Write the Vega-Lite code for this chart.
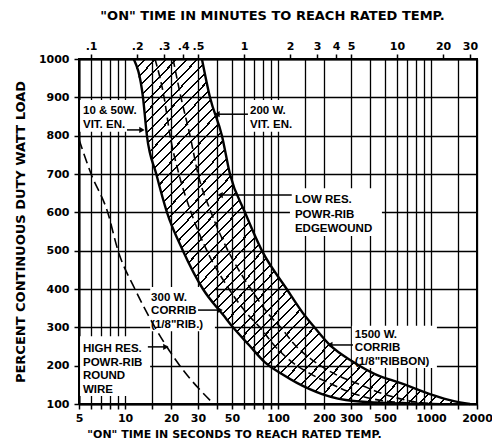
{
 "$schema": "https://vega.github.io/schema/vega-lite/v6.json",
 "width": 398,
 "height": 345,
 "autosize": {"type": "none"},
 "padding": {"left": 79, "top": 59, "right": 15, "bottom": 40},
 "background": "white",
 "config": {
  "view": {"stroke": "black", "strokeWidth": 2},
  "axis": {"labelFont": "DejaVu Sans", "labelFontWeight": "bold", "labelColor": "black", "labelFontSize": 11,
   "titleFont": "DejaVu Sans", "titleFontWeight": "bold", "titleColor": "black",
   "domainColor": "black", "domainWidth": 2, "tickColor": "black", "tickWidth": 1.5, "tickSize": 5,
   "gridColor": "black", "gridWidth": 1.3, "gridOpacity": 1, "labelFlush": false, "labelOverlap": false, "labelBound": false}
 },
 "datasets": {
  "band": [
   {"p": 1000, "lo": 11.4, "hi": 31.8},
   {"p": 900, "lo": 13.1, "hi": 35.9},
   {"p": 800, "lo": 13.9, "hi": 43},
   {"p": 700, "lo": 16.0, "hi": 48.5},
   {"p": 600, "lo": 18.8, "hi": 60.8},
   {"p": 500, "lo": 23.9, "hi": 78.5},
   {"p": 400, "lo": 32.3, "hi": 114},
   {"p": 330, "lo": 44.3, "hi": 150},
   {"p": 300, "lo": 50.8, "hi": 173},
   {"p": 254, "lo": 64.6, "hi": 218},
   {"p": 210, "lo": 81.5, "hi": 309},
   {"p": 178, "lo": 106, "hi": 430},
   {"p": 155, "lo": 133, "hi": 627},
   {"p": 126, "lo": 194, "hi": 984},
   {"p": 108, "lo": 313, "hi": 1390},
   {"p": 100, "lo": 850, "hi": 1800}
  ],
  "curves": [
   {"c": "C", "p": 1000, "s": 15.7}, {"c": "C", "p": 900, "s": 18.0}, {"c": "C", "p": 800, "s": 19.7}, {"c": "C", "p": 700, "s": 22.5},
   {"c": "C", "p": 600, "s": 27.0}, {"c": "C", "p": 500, "s": 34.3}, {"c": "C", "p": 400, "s": 47.8}, {"c": "C", "p": 330, "s": 64.6},
   {"c": "C", "p": 300, "s": 76.2}, {"c": "C", "p": 254, "s": 94}, {"c": "C", "p": 210, "s": 123}, {"c": "C", "p": 178, "s": 164},
   {"c": "C", "p": 155, "s": 215}, {"c": "C", "p": 126, "s": 318}, {"c": "C", "p": 108, "s": 500}, {"c": "C", "p": 100, "s": 1062},
   {"c": "D", "p": 1000, "s": 20.6}, {"c": "D", "p": 900, "s": 23.2}, {"c": "D", "p": 800, "s": 26.6}, {"c": "D", "p": 700, "s": 30.0},
   {"c": "D", "p": 600, "s": 36.5}, {"c": "D", "p": 500, "s": 47.1}, {"c": "D", "p": 400, "s": 66.5}, {"c": "D", "p": 330, "s": 88.6},
   {"c": "D", "p": 300, "s": 104}, {"c": "D", "p": 254, "s": 129}, {"c": "D", "p": 210, "s": 174}, {"c": "D", "p": 178, "s": 236},
   {"c": "D", "p": 155, "s": 323}, {"c": "D", "p": 126, "s": 492}, {"c": "D", "p": 108, "s": 728}, {"c": "D", "p": 100, "s": 1197},
   {"c": "H", "p": 790, "s": 5}, {"c": "H", "p": 700, "s": 6}, {"c": "H", "p": 600, "s": 7.7}, {"c": "H", "p": 500, "s": 9},
   {"c": "H", "p": 400, "s": 11.6}, {"c": "H", "p": 300, "s": 15.7}, {"c": "H", "p": 200, "s": 22.8}, {"c": "H", "p": 100, "s": 38}
  ],
  "boxes": [
   {"s1": 5.08, "s2": 10.8, "p": 810, "p2": 893},
   {"s1": 60.8, "s2": 143.5, "p": 810, "p2": 893},
   {"s1": 119.7, "s2": 478, "p": 538, "p2": 663},
   {"s1": 14.6, "s2": 38.7, "p": 290, "p2": 405},
   {"s1": 5.08, "s2": 14.6, "p": 121, "p2": 277},
   {"s1": 304, "s2": 1094, "p": 194, "p2": 304}
  ],
  "leaders": [
   {"s1": 10.3, "s2": 12.9, "p": 815},
   {"s1": 39.9, "s2": 63.6, "p": 856},
   {"s1": 41.8, "s2": 123, "p": 645},
   {"s1": 30, "s2": 41.8, "p": 345},
   {"s1": 14.1, "s2": 18.5, "p": 249},
   {"s1": 218, "s2": 309, "p": 254}
  ],
  "arrows": [
   {"s": 12.9, "p": 815, "d": "R"},
   {"s": 39.9, "p": 856, "d": "L"},
   {"s": 41.8, "p": 645, "d": "L"},
   {"s": 41.8, "p": 345, "d": "R"},
   {"s": 18.5, "p": 249, "d": "R"},
   {"s": 218, "p": 254, "d": "L"}
  ],
  "labels": [
   {"t": "10 & 50W.", "s": 5.31, "p": 856},
   {"t": "VIT. EN.", "s": 5.31, "p": 820},
   {"t": "200 W.", "s": 65.6, "p": 856},
   {"t": "VIT. EN.", "s": 65.6, "p": 820},
   {"t": "LOW RES.", "s": 129, "p": 624},
   {"t": "POWR-RIB", "s": 129, "p": 585},
   {"t": "EDGEWOUND", "s": 129, "p": 549},
   {"t": "300 W.", "s": 14.8, "p": 369},
   {"t": "CORRIB", "s": 14.8, "p": 334},
   {"t": "(1/8\"RIB.)", "s": 14.8, "p": 298},
   {"t": "HIGH RES.", "s": 5.31, "p": 236},
   {"t": "POWR-RIB", "s": 5.31, "p": 200},
   {"t": "ROUND", "s": 5.31, "p": 165},
   {"t": "WIRE", "s": 5.31, "p": 130},
   {"t": "1500 W.", "s": 318, "p": 272},
   {"t": "CORRIB", "s": 318, "p": 237},
   {"t": "(1/8\"RIBBON)", "s": 318, "p": 202}
  ]
 },
 "encoding": {
  "y": {"field": "p", "type": "quantitative", "scale": {"domain": [100, 1000], "nice": false, "zero": false},
   "axis": {"values": [100, 200, 300, 400, 500, 600, 700, 800, 900, 1000], "format": "d", "grid": true, "title": "PERCENT CONTINUOUS DUTY WATT LOAD",
    "titleFontSize": 13, "titlePadding": 11, "labelPadding": 5}}
 },
 "layer": [
  {
   "data": {"name": "boxes"},
   "mark": {"type": "rect", "fill": "white", "strokeWidth": 0},
   "encoding": {
    "x": {"field": "s1", "type": "quantitative", "scale": {"type": "log", "domain": [5, 2000], "nice": false}, "axis": null},
    "x2": {"field": "s2"},
    "y2": {"field": "p2"}
   }
  },
  {
   "data": {"name": "band"},
   "mark": {"type": "area", "orient": "horizontal", "interpolate": "monotone", "fill": {"gradient": "linear", "x1": 0, "y1": 0, "x2": 1, "y2": 1, "stops": [
    {"offset":0,"color":"#000"},{"offset":0.003,"color":"#000"},{"offset":0.003,"color":"transparent"},{"offset":0.015625,"color":"transparent"},
    {"offset":0.015625,"color":"#000"},{"offset":0.018625,"color":"#000"},{"offset":0.018625,"color":"transparent"},{"offset":0.03125,"color":"transparent"},
    {"offset":0.03125,"color":"#000"},{"offset":0.03425,"color":"#000"},{"offset":0.03425,"color":"transparent"},{"offset":0.046875,"color":"transparent"},
    {"offset":0.046875,"color":"#000"},{"offset":0.049875,"color":"#000"},{"offset":0.049875,"color":"transparent"},{"offset":0.0625,"color":"transparent"},
    {"offset":0.0625,"color":"#000"},{"offset":0.0655,"color":"#000"},{"offset":0.0655,"color":"transparent"},{"offset":0.078125,"color":"transparent"},
    {"offset":0.078125,"color":"#000"},{"offset":0.081125,"color":"#000"},{"offset":0.081125,"color":"transparent"},{"offset":0.09375,"color":"transparent"},
    {"offset":0.09375,"color":"#000"},{"offset":0.09675,"color":"#000"},{"offset":0.09675,"color":"transparent"},{"offset":0.109375,"color":"transparent"},
    {"offset":0.109375,"color":"#000"},{"offset":0.112375,"color":"#000"},{"offset":0.112375,"color":"transparent"},{"offset":0.125,"color":"transparent"},
    {"offset":0.125,"color":"#000"},{"offset":0.128,"color":"#000"},{"offset":0.128,"color":"transparent"},{"offset":0.140625,"color":"transparent"},
    {"offset":0.140625,"color":"#000"},{"offset":0.143625,"color":"#000"},{"offset":0.143625,"color":"transparent"},{"offset":0.15625,"color":"transparent"},
    {"offset":0.15625,"color":"#000"},{"offset":0.15925,"color":"#000"},{"offset":0.15925,"color":"transparent"},{"offset":0.171875,"color":"transparent"},
    {"offset":0.171875,"color":"#000"},{"offset":0.174875,"color":"#000"},{"offset":0.174875,"color":"transparent"},{"offset":0.1875,"color":"transparent"},
    {"offset":0.1875,"color":"#000"},{"offset":0.1905,"color":"#000"},{"offset":0.1905,"color":"transparent"},{"offset":0.203125,"color":"transparent"},
    {"offset":0.203125,"color":"#000"},{"offset":0.206125,"color":"#000"},{"offset":0.206125,"color":"transparent"},{"offset":0.21875,"color":"transparent"},
    {"offset":0.21875,"color":"#000"},{"offset":0.22175,"color":"#000"},{"offset":0.22175,"color":"transparent"},{"offset":0.234375,"color":"transparent"},
    {"offset":0.234375,"color":"#000"},{"offset":0.237375,"color":"#000"},{"offset":0.237375,"color":"transparent"},{"offset":0.25,"color":"transparent"},
    {"offset":0.25,"color":"#000"},{"offset":0.253,"color":"#000"},{"offset":0.253,"color":"transparent"},{"offset":0.265625,"color":"transparent"},
    {"offset":0.265625,"color":"#000"},{"offset":0.268625,"color":"#000"},{"offset":0.268625,"color":"transparent"},{"offset":0.28125,"color":"transparent"},
    {"offset":0.28125,"color":"#000"},{"offset":0.28425,"color":"#000"},{"offset":0.28425,"color":"transparent"},{"offset":0.296875,"color":"transparent"},
    {"offset":0.296875,"color":"#000"},{"offset":0.299875,"color":"#000"},{"offset":0.299875,"color":"transparent"},{"offset":0.3125,"color":"transparent"},
    {"offset":0.3125,"color":"#000"},{"offset":0.3155,"color":"#000"},{"offset":0.3155,"color":"transparent"},{"offset":0.328125,"color":"transparent"},
    {"offset":0.328125,"color":"#000"},{"offset":0.331125,"color":"#000"},{"offset":0.331125,"color":"transparent"},{"offset":0.34375,"color":"transparent"},
    {"offset":0.34375,"color":"#000"},{"offset":0.34675,"color":"#000"},{"offset":0.34675,"color":"transparent"},{"offset":0.359375,"color":"transparent"},
    {"offset":0.359375,"color":"#000"},{"offset":0.362375,"color":"#000"},{"offset":0.362375,"color":"transparent"},{"offset":0.375,"color":"transparent"},
    {"offset":0.375,"color":"#000"},{"offset":0.378,"color":"#000"},{"offset":0.378,"color":"transparent"},{"offset":0.390625,"color":"transparent"},
    {"offset":0.390625,"color":"#000"},{"offset":0.393625,"color":"#000"},{"offset":0.393625,"color":"transparent"},{"offset":0.40625,"color":"transparent"},
    {"offset":0.40625,"color":"#000"},{"offset":0.40925,"color":"#000"},{"offset":0.40925,"color":"transparent"},{"offset":0.421875,"color":"transparent"},
    {"offset":0.421875,"color":"#000"},{"offset":0.424875,"color":"#000"},{"offset":0.424875,"color":"transparent"},{"offset":0.4375,"color":"transparent"},
    {"offset":0.4375,"color":"#000"},{"offset":0.4405,"color":"#000"},{"offset":0.4405,"color":"transparent"},{"offset":0.453125,"color":"transparent"},
    {"offset":0.453125,"color":"#000"},{"offset":0.456125,"color":"#000"},{"offset":0.456125,"color":"transparent"},{"offset":0.46875,"color":"transparent"},
    {"offset":0.46875,"color":"#000"},{"offset":0.47175,"color":"#000"},{"offset":0.47175,"color":"transparent"},{"offset":0.484375,"color":"transparent"},
    {"offset":0.484375,"color":"#000"},{"offset":0.487375,"color":"#000"},{"offset":0.487375,"color":"transparent"},{"offset":0.5,"color":"transparent"},
    {"offset":0.5,"color":"#000"},{"offset":0.503,"color":"#000"},{"offset":0.503,"color":"transparent"},{"offset":0.515625,"color":"transparent"},
    {"offset":0.515625,"color":"#000"},{"offset":0.518625,"color":"#000"},{"offset":0.518625,"color":"transparent"},{"offset":0.53125,"color":"transparent"},
    {"offset":0.53125,"color":"#000"},{"offset":0.53425,"color":"#000"},{"offset":0.53425,"color":"transparent"},{"offset":0.546875,"color":"transparent"},
    {"offset":0.546875,"color":"#000"},{"offset":0.549875,"color":"#000"},{"offset":0.549875,"color":"transparent"},{"offset":0.5625,"color":"transparent"},
    {"offset":0.5625,"color":"#000"},{"offset":0.5655,"color":"#000"},{"offset":0.5655,"color":"transparent"},{"offset":0.578125,"color":"transparent"},
    {"offset":0.578125,"color":"#000"},{"offset":0.581125,"color":"#000"},{"offset":0.581125,"color":"transparent"},{"offset":0.59375,"color":"transparent"},
    {"offset":0.59375,"color":"#000"},{"offset":0.59675,"color":"#000"},{"offset":0.59675,"color":"transparent"},{"offset":0.609375,"color":"transparent"},
    {"offset":0.609375,"color":"#000"},{"offset":0.612375,"color":"#000"},{"offset":0.612375,"color":"transparent"},{"offset":0.625,"color":"transparent"},
    {"offset":0.625,"color":"#000"},{"offset":0.628,"color":"#000"},{"offset":0.628,"color":"transparent"},{"offset":0.640625,"color":"transparent"},
    {"offset":0.640625,"color":"#000"},{"offset":0.643625,"color":"#000"},{"offset":0.643625,"color":"transparent"},{"offset":0.65625,"color":"transparent"},
    {"offset":0.65625,"color":"#000"},{"offset":0.65925,"color":"#000"},{"offset":0.65925,"color":"transparent"},{"offset":0.671875,"color":"transparent"},
    {"offset":0.671875,"color":"#000"},{"offset":0.674875,"color":"#000"},{"offset":0.674875,"color":"transparent"},{"offset":0.6875,"color":"transparent"},
    {"offset":0.6875,"color":"#000"},{"offset":0.6905,"color":"#000"},{"offset":0.6905,"color":"transparent"},{"offset":0.703125,"color":"transparent"},
    {"offset":0.703125,"color":"#000"},{"offset":0.706125,"color":"#000"},{"offset":0.706125,"color":"transparent"},{"offset":0.71875,"color":"transparent"},
    {"offset":0.71875,"color":"#000"},{"offset":0.72175,"color":"#000"},{"offset":0.72175,"color":"transparent"},{"offset":0.734375,"color":"transparent"},
    {"offset":0.734375,"color":"#000"},{"offset":0.737375,"color":"#000"},{"offset":0.737375,"color":"transparent"},{"offset":0.75,"color":"transparent"},
    {"offset":0.75,"color":"#000"},{"offset":0.753,"color":"#000"},{"offset":0.753,"color":"transparent"},{"offset":0.765625,"color":"transparent"},
    {"offset":0.765625,"color":"#000"},{"offset":0.768625,"color":"#000"},{"offset":0.768625,"color":"transparent"},{"offset":0.78125,"color":"transparent"},
    {"offset":0.78125,"color":"#000"},{"offset":0.78425,"color":"#000"},{"offset":0.78425,"color":"transparent"},{"offset":0.796875,"color":"transparent"},
    {"offset":0.796875,"color":"#000"},{"offset":0.799875,"color":"#000"},{"offset":0.799875,"color":"transparent"},{"offset":0.8125,"color":"transparent"},
    {"offset":0.8125,"color":"#000"},{"offset":0.8155,"color":"#000"},{"offset":0.8155,"color":"transparent"},{"offset":0.828125,"color":"transparent"},
    {"offset":0.828125,"color":"#000"},{"offset":0.831125,"color":"#000"},{"offset":0.831125,"color":"transparent"},{"offset":0.84375,"color":"transparent"},
    {"offset":0.84375,"color":"#000"},{"offset":0.84675,"color":"#000"},{"offset":0.84675,"color":"transparent"},{"offset":0.859375,"color":"transparent"},
    {"offset":0.859375,"color":"#000"},{"offset":0.862375,"color":"#000"},{"offset":0.862375,"color":"transparent"},{"offset":0.875,"color":"transparent"},
    {"offset":0.875,"color":"#000"},{"offset":0.878,"color":"#000"},{"offset":0.878,"color":"transparent"},{"offset":0.890625,"color":"transparent"},
    {"offset":0.890625,"color":"#000"},{"offset":0.893625,"color":"#000"},{"offset":0.893625,"color":"transparent"},{"offset":0.90625,"color":"transparent"},
    {"offset":0.90625,"color":"#000"},{"offset":0.90925,"color":"#000"},{"offset":0.90925,"color":"transparent"},{"offset":0.921875,"color":"transparent"},
    {"offset":0.921875,"color":"#000"},{"offset":0.924875,"color":"#000"},{"offset":0.924875,"color":"transparent"},{"offset":0.9375,"color":"transparent"},
    {"offset":0.9375,"color":"#000"},{"offset":0.9405,"color":"#000"},{"offset":0.9405,"color":"transparent"},{"offset":0.953125,"color":"transparent"},
    {"offset":0.953125,"color":"#000"},{"offset":0.956125,"color":"#000"},{"offset":0.956125,"color":"transparent"},{"offset":0.96875,"color":"transparent"},
    {"offset":0.96875,"color":"#000"},{"offset":0.97175,"color":"#000"},{"offset":0.97175,"color":"transparent"},{"offset":0.984375,"color":"transparent"},
    {"offset":0.984375,"color":"#000"},{"offset":0.987375,"color":"#000"},{"offset":0.987375,"color":"transparent"},{"offset":1,"color":"transparent"}
   ]}, "opacity": 1},
   "encoding": {
    "x": {"field": "lo", "type": "quantitative", "scale": {"type": "log", "domain": [5, 2000], "nice": false}, "axis": null},
    "x2": {"field": "hi"}
   }
  },
  {
   "data": {"name": "band"},
   "mark": {"type": "line", "color": "black", "strokeWidth": 2.4, "interpolate": "monotone"},
   "encoding": {
    "x": {"field": "lo", "type": "quantitative", "scale": {"type": "log", "domain": [5, 2000], "nice": false},
     "axis": {"orient": "bottom", "grid": true,
      "values": [5, 6, 7, 8, 9, 10, 15, 20, 30, 40, 50, 60, 70, 80, 90, 100, 150, 200, 300, 400, 500, 600, 700, 800, 900, 1000, 1500, 2000],
      "labelExpr": "indexof([5, 10, 20, 30, 50, 100, 200, 300, 500, 1000, 2000], datum.value) >= 0 ? '' + datum.value : ''",
      "labelPadding": 3, "title": "\"ON\" TIME IN SECONDS TO REACH RATED TEMP.", "titleFontSize": 11, "titlePadding": 5,
      "titleX": 155, "titleAlign": "center", "titleAnchor": null}}
   }
  },
  {
   "data": {"name": "band"},
   "mark": {"type": "line", "color": "black", "strokeWidth": 2.4, "interpolate": "monotone"},
   "encoding": {
    "x": {"field": "hi", "type": "quantitative", "scale": {"type": "log", "domain": [5, 2000], "nice": false}, "axis": null}
   }
  },
  {
   "data": {"name": "curves"},
   "mark": {"type": "line", "color": "black", "interpolate": "monotone"},
   "encoding": {
    "x": {"field": "s", "type": "quantitative", "scale": {"type": "log", "domain": [5, 2000], "nice": false}, "axis": null},
    "detail": {"field": "c"},
    "strokeDash": {"field": "c", "type": "nominal", "scale": {"domain": ["C", "D", "H"], "range": [[8, 4], [8, 4], [10, 5]]}, "legend": null},
    "strokeWidth": {"field": "c", "type": "nominal", "scale": {"domain": ["C", "D", "H"], "range": [1.6, 1.6, 2.2]}, "legend": null}
   }
  },
  {
   "data": {"name": "leaders"},
   "mark": {"type": "rule", "color": "black", "strokeWidth": 1.5},
   "encoding": {
    "x": {"field": "s1", "type": "quantitative", "scale": {"type": "log", "domain": [5, 2000], "nice": false}, "axis": null},
    "x2": {"field": "s2"}
   }
  },
  {
   "data": {"name": "arrows"},
   "mark": {"type": "point", "filled": true, "color": "black", "opacity": 1, "size": 40},
   "encoding": {
    "x": {"field": "s", "type": "quantitative", "scale": {"type": "log", "domain": [5, 2000], "nice": false}, "axis": null},
    "shape": {"field": "d", "type": "nominal", "scale": {"domain": ["L", "R"], "range": ["triangle-left", "triangle-right"]}, "legend": null}
   }
  },
  {
   "data": {"name": "labels"},
   "mark": {"type": "text", "align": "left", "baseline": "alphabetic", "font": "Liberation Sans", "fontWeight": "bold", "fontSize": 11.5, "color": "black"},
   "encoding": {
    "x": {"field": "s", "type": "quantitative", "scale": {"type": "log", "domain": [5, 2000], "nice": false},
     "axis": {"orient": "top", "grid": false,
      "values": [6, 12, 18, 24, 30, 60, 120, 180, 240, 300, 600, 1200, 1800],
      "labelExpr": "datum.value < 60 ? '.' + round(datum.value / 6) : '' + round(datum.value / 60)",
      "labelPadding": 3, "title": "\"ON\" TIME IN MINUTES TO REACH RATED TEMP.", "titleFontSize": 13, "titlePadding": 18,
      "titleX": 193, "titleAlign": "center", "titleAnchor": null}},
    "text": {"field": "t"}
   }
  }
 ],
 "resolve": {"axis": {"x": "independent"}}
}
